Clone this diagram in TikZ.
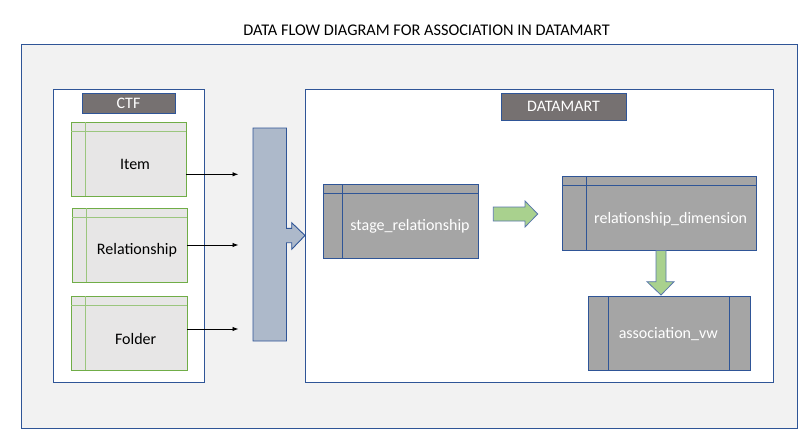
\documentclass[tikz,border=0pt]{standalone}
\usepackage{fontspec}
\setmainfont{Carlito}
\usetikzlibrary{arrows.meta}
\definecolor{bblue}{HTML}{2F5597}
\definecolor{ggreen}{HTML}{70AD47}
\definecolor{lgreen}{HTML}{A9D18E}
\definecolor{bgray}{HTML}{F2F2F2}
\definecolor{sgray}{HTML}{E7E6E6}
\definecolor{dgray}{HTML}{767171}
\definecolor{tgray}{HTML}{A5A5A5}
\definecolor{ablue}{HTML}{ADB9CA}
\tikzset{
  txt/.style={font=\fontsize{16}{18}\selectfont, inner sep=0pt},
  wtxt/.style={txt, text=white},
  container/.style={draw=bblue, fill=white, line width=0.9pt},
  srcbox/.style={draw=ggreen, fill=sgray, line width=1pt},
  srcline/.style={draw=ggreen!70, line width=1pt},
  tblbox/.style={draw=bblue, fill=tgray, line width=1pt},
  tblline/.style={draw=bblue, line width=0.9pt},
  label/.style={draw=bblue, fill=dgray, line width=0.9pt},
  feed/.style={-{Latex[length=6pt,width=4.5pt]}, line width=0.9pt, black},
  garrow/.style={draw=bblue!80, fill=lgreen, line width=0.8pt},
}
\begin{document}
\begin{tikzpicture}[x=1pt,y=-1pt]
\useasboundingbox (0,0) rectangle (808,444);
% title
\node[font=\fontsize{16.3}{19}\selectfont, inner sep=0pt] (title) at (426.5,30) {DATA FLOW DIAGRAM FOR ASSOCIATION IN DATAMART};
% outer frame
\draw[draw=bblue, fill=bgray, line width=0.9pt] (21,44) rectangle (797,428);
% CTF container
\draw[container] (53,89) rectangle (204,382);
\draw[label] (82,93) rectangle (175,113);
\node[wtxt] (ctf) at (128.5,103) {CTF};
% source boxes
\draw[srcbox] (71,122) rectangle (186,196);
\draw[srcline] (71,131.5) -- (186,131.5) (85.7,122) -- (85.7,196);
\node[txt] (item) at (135,164) {Item};
\coordinate (itemR) at (186,174.3);

\draw[srcbox] (72,208) rectangle (187,282);
\draw[srcline] (72,217.5) -- (187,217.5) (86.7,208) -- (86.7,282);
\node[txt] (rel) at (137,250) {Relationship};
\coordinate (relR) at (187,245);

\draw[srcbox] (71,296) rectangle (187,370);
\draw[srcline] (71,305.5) -- (187,305.5) (85.7,296) -- (85.7,370);
\node[txt] (folder) at (135.7,338.5) {Folder};
\coordinate (folderR) at (187,329);

% feed arrows
\coordinate (in1) at (238.5,174.3);
\coordinate (in2) at (238.5,245);
\coordinate (in3) at (238.5,329);
\draw[feed] (itemR) -- (in1);
\draw[feed] (relR) -- (in2);
\draw[feed] (folderR) -- (in3);

% merge block arrow
\draw[draw=bblue, fill=ablue, line width=0.9pt]
  (253,128) -- (286.5,128) -- (286.5,228.3) -- (291.7,228.3) -- (291.7,222.7)
  -- (305,235.5) -- (291.7,249.3) -- (291.7,242.7) -- (286.5,242.7)
  -- (286.5,341) -- (253,341) -- cycle;

% DATAMART container
\draw[container] (305,89) rectangle (773,382);
\draw[label] (501,93) rectangle (626,120);
\node[wtxt] (dm) at (563.5,106.5) {DATAMART};

% stage_relationship
\draw[tblbox] (323.3,184.3) rectangle (478.3,258.3);
\draw[tblline] (323.3,193.3) -- (478.3,193.3) (342.7,184.3) -- (342.7,258.3);
\node[wtxt] (stage) at (410,226.7) {stage\_relationship};

% green right arrow
\draw[garrow] (493.3,207) -- (525,207) -- (525,201) -- (537.7,214) -- (525,227) -- (525,221) -- (493.3,221) -- cycle;

% relationship_dimension
\draw[tblbox] (562.3,176) rectangle (756.7,250);
\draw[tblline] (562.3,185.7) -- (756.7,185.7) (586.7,176) -- (586.7,250);
\node[wtxt] (dim) at (670.7,219) {relationship\_dimension};

% green down arrow
\draw[garrow] (656,250.5) -- (666,250.5) -- (666,281.7) -- (674,281.7) -- (661,295) -- (647,281.7) -- (656,281.7) -- cycle;

% association_vw
\draw[tblbox] (588.3,296) rectangle (750,370);
\draw[tblline] (608.3,296) -- (608.3,370) (729.3,296) -- (729.3,370);
\node[wtxt] (assoc) at (668.3,334.3) {association\_vw};
\end{tikzpicture}
\end{document}
